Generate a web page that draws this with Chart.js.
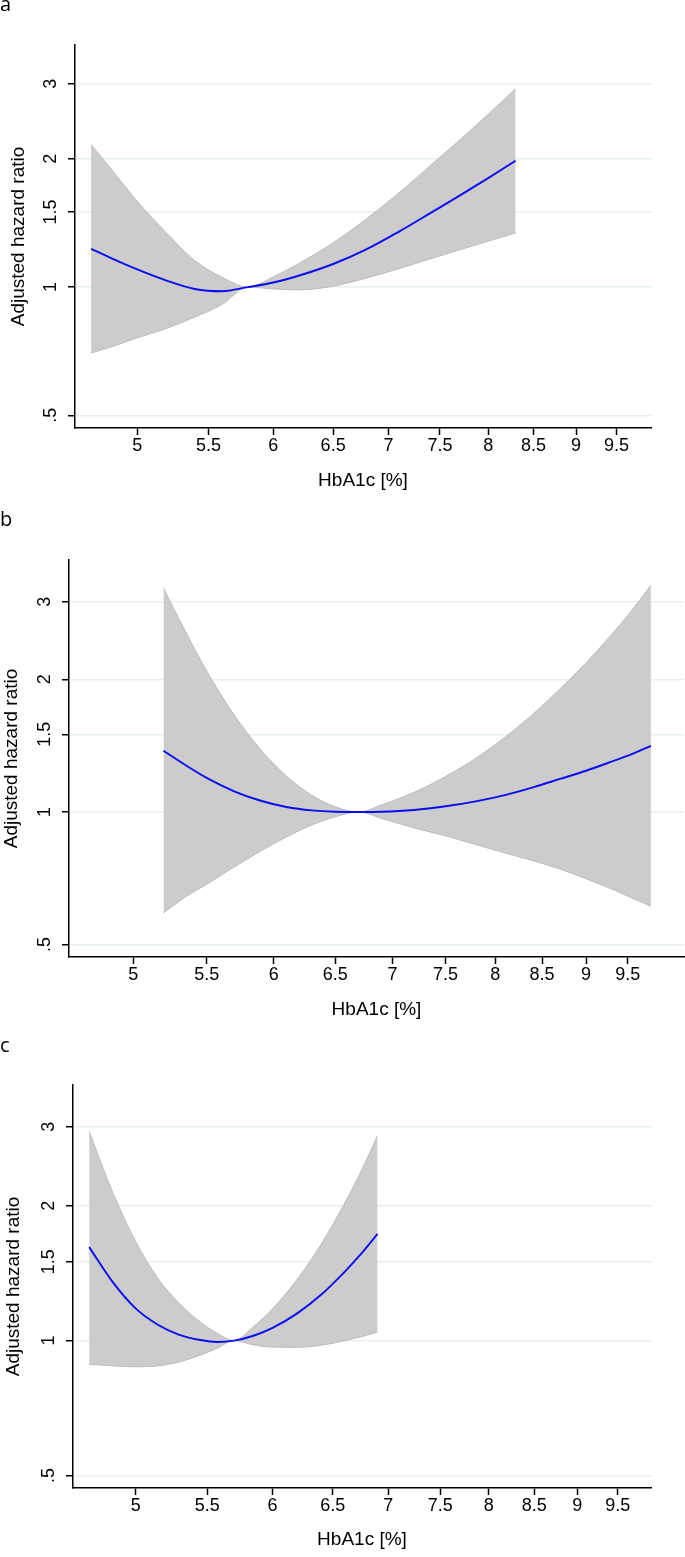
<!DOCTYPE html>
<html>
<head>
<meta charset="utf-8">
<script src="https://cdn.jsdelivr.net/npm/chart.js@4.4.1/dist/chart.umd.min.js"></script>
<style>
  html, body { margin: 0; padding: 0; background: #fff; }
  body { width: 685px; height: 1557px; position: relative; overflow: hidden; }
  canvas { position: absolute; left: 0; }
  .tag { position: absolute; left: 0; font-family: "Open Sans", sans-serif; font-size: 20px; line-height: 20px; color: #000; }
</style>
</head>
<body>
<canvas id="chartA" width="685" height="500" style="top:0px"></canvas>
<canvas id="chartB" width="685" height="520" style="top:505px"></canvas>
<canvas id="chartC" width="685" height="527" style="top:1030px"></canvas>
<div class="tag" style="top:-6px">a</div>
<div class="tag" style="top:509px">b</div>
<div class="tag" style="top:1035px">c</div>
<script>
// tick labels shared by all three panels
const xTicks = [5, 5.5, 6, 6.5, 7, 7.5, 8, 8.5, 9, 9.5];
const yTicks = [0.5, 1, 1.5, 2, 3];

// panel a
const aX  = [4.7, 4.85, 5.0, 5.2, 5.4, 5.6, 5.8, 6.0, 6.2, 6.5, 6.8, 7.1, 7.4, 7.7, 8.0, 8.3];
const aHR = [1.23, 1.16, 1.10, 1.036, 0.99, 0.978, 1.00, 1.025, 1.062, 1.133, 1.228, 1.35, 1.489, 1.639, 1.802, 1.98];
const aLo = [0.70, 0.728, 0.76, 0.80, 0.85, 0.91, 1.00, 0.99, 0.985, 1.005, 1.051, 1.105, 1.164, 1.223, 1.281, 1.34];
const aHi = [2.16, 1.85, 1.59, 1.34, 1.155, 1.055, 1.00, 1.057, 1.133, 1.271, 1.448, 1.665, 1.925, 2.214, 2.545, 2.92];

// panel b
const bX  = [5.2, 5.35, 5.5, 5.7, 5.9, 6.1, 6.3, 6.5, 6.7, 6.9, 7.2, 7.5, 7.8, 8.1, 8.4, 8.7, 9.0, 9.3, 9.55, 9.79];
const bHR = [1.377, 1.278, 1.195, 1.114, 1.06, 1.026, 1.008, 1.001, 1.00, 1.001, 1.01, 1.03, 1.057, 1.092, 1.137, 1.188, 1.24, 1.30, 1.353, 1.413];
const bLo = [0.59, 0.641, 0.685, 0.75, 0.815, 0.877, 0.933, 0.975, 1.00, 0.967, 0.92, 0.882, 0.843, 0.807, 0.775, 0.742, 0.705, 0.669, 0.638, 0.611];
const bHi = [3.22, 2.57, 2.09, 1.66, 1.384, 1.206, 1.093, 1.027, 1.00, 1.037, 1.108, 1.204, 1.324, 1.477, 1.667, 1.902, 2.18, 2.524, 2.866, 3.27];

// panel c
const cX  = [4.7, 4.85, 5.0, 5.15, 5.3, 5.45, 5.57, 5.7, 5.85, 6.0, 6.2, 6.4, 6.6, 6.75, 6.9];
const cHR = [1.616, 1.35, 1.18, 1.085, 1.03, 1.003, 0.993, 1.00, 1.025, 1.067, 1.15, 1.265, 1.42, 1.56, 1.73];
const cLo = [0.885, 0.878, 0.874, 0.878, 0.896, 0.928, 0.96, 1.00, 0.978, 0.967, 0.966, 0.976, 0.999, 1.02, 1.045];
const cHi = [2.93, 2.14, 1.665, 1.377, 1.21, 1.10, 1.04, 1.00, 1.075, 1.178, 1.37, 1.64, 2.016, 2.387, 2.863];

Chart.defaults.font.family = '"Liberation Sans", Arial, sans-serif';
Chart.defaults.color = '#000';

const pts = (xs, ys) => xs.map((x, i) => ({ x: x, y: ys[i] }));

const initChart = (id, xs, hr, lo, hi, g) => {
  const ctx = document.getElementById(id);
  if (!ctx) return;
  new Chart(ctx, {
    type: 'line',
    data: {
      datasets: [
        { data: pts(xs, hr), borderColor: '#0c0cf0', borderWidth: 1.9, pointRadius: 0, fill: false, cubicInterpolationMode: 'monotone' },
        { data: pts(xs, hi), borderColor: '#bcbcbc', borderWidth: 1, pointRadius: 0, fill: '+1', backgroundColor: '#cccccc', cubicInterpolationMode: 'monotone' },
        { data: pts(xs, lo), borderColor: '#bcbcbc', borderWidth: 1, pointRadius: 0, fill: false, cubicInterpolationMode: 'monotone' }
      ]
    },
    options: {
      responsive: false,
      animation: false,
      events: [],
      layout: { padding: { top: g.top, right: g.right, left: 0, bottom: 0 } },
      plugins: {
        legend: { display: false },
        tooltip: { enabled: false },
        filler: { drawTime: 'beforeDatasetsDraw' }
      },
      scales: {
        x: {
          type: 'logarithmic',
          min: g.xMin,
          max: g.xMax,
          afterBuildTicks: s => { s.ticks = xTicks.map(v => ({ value: v })); },
          afterFit: s => { s.height = g.xAxisH; s.paddingLeft = 0; s.paddingRight = 0; },
          ticks: { autoSkip: false, minRotation: 0, maxRotation: 0, padding: 0, font: { size: 18 }, callback: v => String(v) },
          grid: { drawOnChartArea: false, tickLength: 7, tickColor: '#000', tickWidth: 1.5 },
          border: { display: true, color: '#000', width: 1.5 },
          title: { display: true, text: 'HbA1c [%]', font: { size: 19 }, padding: { top: 0, bottom: g.xTitlePad } }
        },
        y: {
          type: 'logarithmic',
          min: g.yMin,
          max: g.yMax,
          afterBuildTicks: s => { s.ticks = yTicks.map(v => ({ value: v })); },
          afterFit: s => { s.width = g.yAxisW; s.paddingTop = 0; s.paddingBottom = 0; },
          ticks: {
            minRotation: 90, maxRotation: 90, crossAlign: 'center', padding: 4, font: { size: 18 },
            callback: v => v < 1 ? String(v).replace(/^0/, '') : String(v)
          },
          grid: { color: '#e6f0f1', lineWidth: 1.5, tickLength: 7, tickColor: '#000', tickWidth: 1.5 },
          border: { display: true, color: '#000', width: 1.5 },
          title: { display: true, text: 'Adjusted hazard ratio', font: { size: 19 }, padding: { top: g.yTitlePad, bottom: 0 } }
        }
      }
    }
  });
};

initChart('chartA', aX, aHR, aLo, aHi, {
  top: 45, right: 34, yAxisW: 75, xAxisH: 72,
  xMin: 4.63, xMax: 9.95, yMin: 0.467, yMax: 3.70, xTitlePad: 7.6, yTitlePad: 7
});
initChart('chartB', bX, bHR, bLo, bHi, {
  top: 55, right: 1, yAxisW: 69, xAxisH: 68,
  xMin: 4.62, xMax: 10.22, yMin: 0.4686, yMax: 3.73, xTitlePad: 3.6, yTitlePad: 0
});
initChart('chartC', cX, cHR, cLo, cHi, {
  top: 55, right: 34, yAxisW: 73, xAxisH: 69,
  xMin: 4.606, xMax: 9.93, yMin: 0.469, yMax: 3.716, xTitlePad: 5.6, yTitlePad: 2.3
});
</script>
</body>
</html>
